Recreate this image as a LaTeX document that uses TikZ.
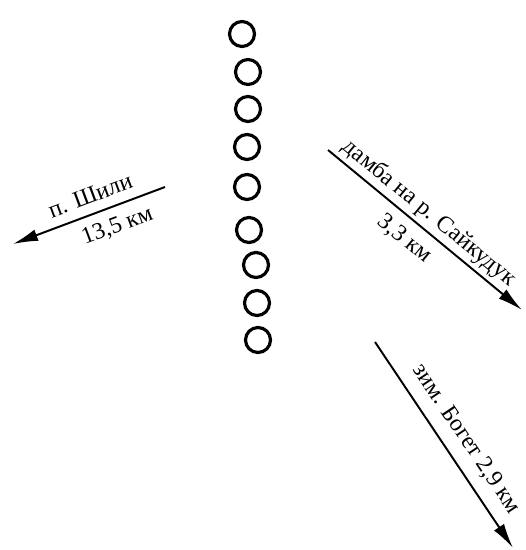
\documentclass[tikz,border=0pt]{standalone}
\usepackage{fontspec}
\setmainfont{Liberation Serif}
\usepackage{tikz}
\usetikzlibrary{arrows.meta}

\begin{document}
\begin{tikzpicture}[x=0.02cm, y=-0.02cm,
        hole/.style={draw, circle, line width=1.8pt, minimum size=0.5cm, inner sep=0pt},
        road/.style={line width=1.1pt, -{Latex[length=5mm, width=2.4mm]}},
        every node/.append style={font=\fontsize{13.5}{16}\selectfont}]
        \useasboundingbox (0,0) rectangle (525,550);
        % circles in a column
        \foreach \x/\y [count=\i] in {242/34, 248/72, 248/109, 247/147, 247/187, 249/230, 256/265, 257/303, 258/340} {
            \node[hole] (c\i) at (\x,\y) {};
        }
        % road ends
        \coordinate (shS) at (165,187);
        \coordinate (shT) at (13,244);
        \coordinate (daS) at (328,150);
        \coordinate (daT) at (522,310);
        \coordinate (boS) at (375,342);
        \coordinate (boT) at (513,548);
        \draw[road] (shS) -- node[sloped, above=2pt, pos=0.45] {п. Шили} node[sloped, below=2pt, pos=0.36] {13,5 км} (shT);
        \draw[road] (daS) -- node[sloped, above=1pt, pos=0.47, inner sep=1pt] {дамба на р. Сайкудук} node[sloped, below=2pt, pos=0.46] {3,3 км} (daT);
        \draw[road] (boS) -- node[sloped, above=3pt, pos=0.53] {зим. Богет 2,9 км} (boT);
    \end{tikzpicture}
\end{document}
